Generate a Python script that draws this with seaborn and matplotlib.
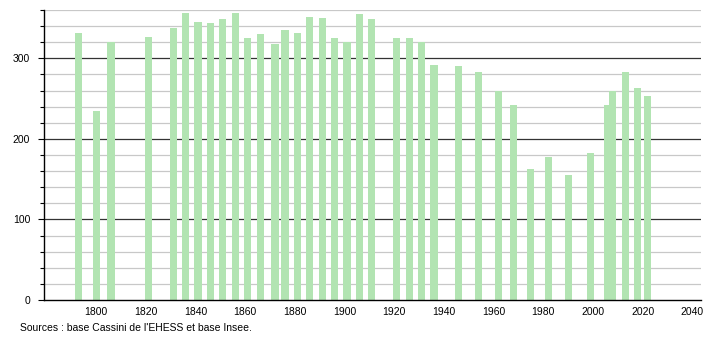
import matplotlib
matplotlib.use("Agg")
import matplotlib.pyplot as plt
import seaborn as sns
import pandas as pd
from matplotlib.ticker import MultipleLocator

years = [1793, 1800, 1806, 1821, 1831, 1836, 1841, 1846, 1851, 1856,
         1861, 1866, 1872, 1876, 1881, 1886, 1891, 1896, 1901, 1906,
         1911, 1921, 1926, 1931, 1936, 1946, 1954, 1962, 1968, 1975,
         1982, 1990, 1999, 2006, 2008, 2013, 2018, 2022]
population = [332, 235, 320, 327, 338, 356, 345, 344, 349, 356,
              325, 330, 318, 335, 332, 351, 350, 325, 320, 355,
              349, 325, 325, 320, 292, 290, 283, 260, 242, 163,
              177, 155, 183, 242, 260, 283, 263, 253]
x_ticks = [1800, 1820, 1840, 1860, 1880, 1900, 1920, 1940, 1960, 1980, 2000, 2020, 2040]
y_ticks = [0, 100, 200, 300]
source_text = "Sources : base Cassini de l'EHESS et base Insee."

sns.set_style("white")
plt.rcParams['font.family'] = ['Liberation Sans', 'DejaVu Sans']
plt.rcParams['text.color'] = 'black'
plt.rcParams['xtick.color'] = 'black'
plt.rcParams['ytick.color'] = 'black'

fig = plt.figure(figsize=(7.1, 3.4), dpi=100)
ax = fig.add_axes([44/710, 1-300/340, (701-44)/710, 290/340])

df = pd.DataFrame({"year": years, "pop": population})

# gridlines
for v in range(20, 361, 20):
    if v % 100 == 0:
        ax.axhline(v, color="#333333", lw=0.9, zorder=0)
    else:
        ax.axhline(v, color="#c8c8c8", lw=0.9, zorder=0)

sns.barplot(data=df, x="year", y="pop", native_scale=True, width=1.45,
            color="#b2e4b2", saturation=1, ax=ax, zorder=2, errorbar=None,
            linewidth=0, edgecolor="none")

ax.set_xlim(1779, 2043.5)
ax.set_ylim(0, 360)
ax.set_xticks(x_ticks)
ax.set_xticklabels([str(t) for t in x_ticks])
ax.set_yticks(y_ticks)
ax.yaxis.set_minor_locator(MultipleLocator(20))
ax.set_xlabel("")
ax.set_ylabel("")

for s in ["top", "right"]:
    ax.spines[s].set_visible(False)
for s in ["left", "bottom"]:
    ax.spines[s].set_color("black")
    ax.spines[s].set_linewidth(1.0)

ax.tick_params(axis="y", which="major", length=4, width=0.8, color="black",
               labelsize=7.5, pad=6, left=True, labelcolor="black")
ax.tick_params(axis="y", which="minor", length=3, width=0.8, color="black", left=True)
ax.tick_params(axis="x", which="major", length=0, labelsize=7.5, pad=5, labelcolor="black")

fig.text(20/710, 1-328/340, source_text, fontsize=7.5, ha="left", va="center", color="black")

fig.savefig("out.png", dpi=100)
